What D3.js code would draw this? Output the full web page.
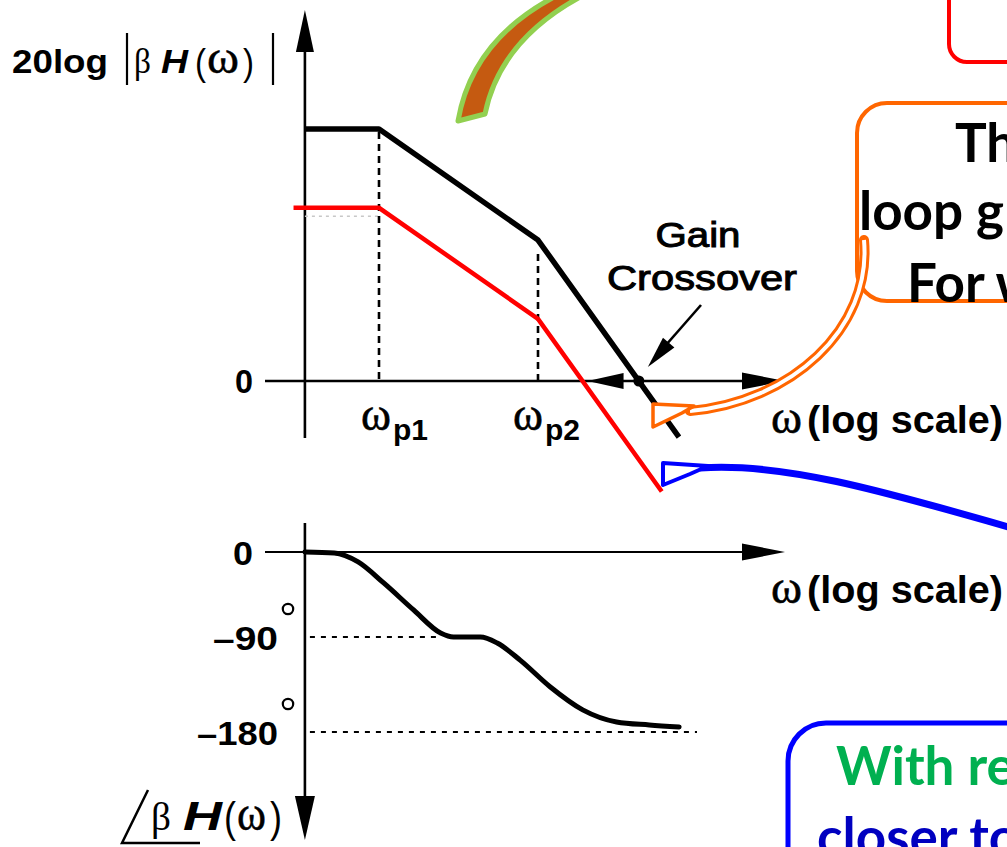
<!DOCTYPE html>
<html><head><meta charset="utf-8">
<script src="https://cdn.jsdelivr.net/npm/d3@7"></script>
<style>html,body{margin:0;padding:0;background:#fff;overflow:hidden}</style>
</head><body>
<svg id="c" width="1007" height="847"></svg>
<script>
// ---------- data ----------
const poleFreqs = [1, 10];
const poleLabels = ["p1", "p2"];
const loopFreq = [0.342, 1, 10, 77];
const loopDb = [45.4, 45.4, 25.4, -10.1];
const reducedFreq = [0.29, 1, 10, 60];
const reducedDb = [31.2, 31.2, 11.2, -19.9];
const guideDb = [29.7];
const phaseFreq = [0.342, 0.523, 0.739, 1.07, 1.65, 2.44, 2.94, 4.34, 5.54, 7.72, 11.9, 19.1, 31.2, 50.1, 77.2];
const phaseDeg = [0, -1, -10.5, -32.8, -61.4, -85.8, -90, -90, -95.7, -111.9, -137.1, -159, -170.5, -173.3, -175.2];
const magTickVals = [0];
const magTickLabels = ["0"];
const phaseTickVals = [0, -90, -180];
const phaseTickLabels = ["0", "\u201390", "\u2013180"];
const phaseGuideEnd = [null, 2.42, 100];
const axisLabel = "(log scale)";
const gainLabel = ["Gain", "Crossover"];

// ---------- setup ----------
const svg = d3.select("#c");
const W = 1007, H = 847;
svg.append("rect").attr("width", W).attr("height", H).attr("fill", "#fff");

const x = d3.scaleLog().domain([1, 10]).range([379, 538]);
const yMag = d3.scaleLinear().domain([0, 20]).range([381, 270]);
const yPh = d3.scaleLinear().domain([0, -90, -180]).range([552, 637, 732]);
const axisX = x(loopFreq[0]);
const axisLeft = 265, axisRight = 785;
const SANS = "'Liberation Sans', Arial, Helvetica, sans-serif";
const SERIF = "'Liberation Serif', 'Times New Roman', serif";
const CAL = "Lato, 'Open Sans', sans-serif";

function head(g, tx, ty, ang, len, wid, fill) {
  const c = Math.cos(ang), s = Math.sin(ang);
  const bx = tx - len * c, by = ty - len * s;
  const px = -s * wid / 2, py = c * wid / 2;
  g.append("path").attr("d", `M${tx},${ty}L${bx + px},${by + py}L${bx - px},${by - py}Z`).attr("fill", fill || "#000");
}
function txt(g, s, xx, yy, o) {
  const t = g.append("text").attr("x", xx).attr("y", yy).text(s)
    .attr("font-family", o.f || SANS).attr("font-size", o.size)
    .attr("font-weight", o.w || "normal").attr("fill", o.fill || "#000");
  if (o.italic) t.attr("font-style", "italic");
  if (o.anchor) t.attr("text-anchor", o.anchor);
  if (o.tl) t.attr("textLength", o.tl).attr("lengthAdjust", "spacingAndGlyphs");
  if (o.sw) t.attr("stroke", o.fill || "#000").attr("stroke-width", o.sw);
  return t;
}

const g = svg.append("g");

// ---------- magnitude plot ----------
const y0 = yMag(0);
g.append("line").attr("x1", axisX).attr("x2", axisX).attr("y1", 438).attr("y2", 45)
  .attr("stroke", "#000").attr("stroke-width", 2.6);
head(g, axisX, 10, -Math.PI / 2, 42, 18);
g.append("line").attr("x1", axisLeft).attr("x2", axisRight - 30).attr("y1", y0).attr("y2", y0)
  .attr("stroke", "#000").attr("stroke-width", 2.6);
head(g, axisRight, y0, 0, 43, 17);

// faint guide from original figure
g.append("line").attr("x1", axisX).attr("x2", x(poleFreqs[0])).attr("y1", yMag(guideDb[0])).attr("y2", yMag(guideDb[0]))
  .attr("stroke", "#c8c8c8").attr("stroke-width", 1.5).attr("stroke-dasharray", "3,4");

// pole dashed lines
const loopAt = f => {
  const i = d3.bisectLeft(loopFreq, f);
  return loopDb[Math.min(i, loopDb.length - 1)];
};
poleFreqs.forEach((f, i) => {
  g.append("line").attr("x1", x(f)).attr("x2", x(f)).attr("y1", yMag(loopAt(f)) + (i ? 14 : 3)).attr("y2", y0)
    .attr("stroke", "#000").attr("stroke-width", 2.6).attr("stroke-dasharray", "7,5");
});

const line = d3.line().x(d => x(d[0])).y(d => yMag(d[1]));
g.append("path").attr("d", line(loopFreq.map((f, i) => [f, loopDb[i]])))
  .attr("fill", "none").attr("stroke", "#000").attr("stroke-width", 5.5).attr("stroke-linejoin", "round");
g.append("path").attr("d", line(reducedFreq.map((f, i) => [f, reducedDb[i]])))
  .attr("fill", "none").attr("stroke", "#ff0000").attr("stroke-width", 4.5).attr("stroke-linejoin", "miter");

// crossover points
function zeroCross(fr, db) {
  for (let i = 1; i < fr.length; i++) if (db[i - 1] > 0 && db[i] <= 0) {
    const t = db[i - 1] / (db[i - 1] - db[i]);
    return Math.pow(10, Math.log10(fr[i - 1]) + t * (Math.log10(fr[i]) - Math.log10(fr[i - 1])));
  }
}
const fc = zeroCross(loopFreq, loopDb), fcRed = zeroCross(reducedFreq, reducedDb);
g.append("circle").attr("cx", x(fc)).attr("cy", y0).attr("r", 5.5).attr("fill", "#000");
head(g, x(fcRed) + 5, y0, Math.PI, 36, 16);
// gain crossover pointer
const tipX = x(fc) + 9, tipY = y0 - 14;
g.append("line").attr("x1", 701).attr("y1", 305).attr("x2", tipX + 12).attr("y2", tipY - 15)
  .attr("stroke", "#000").attr("stroke-width", 2.6);
head(g, tipX, tipY, Math.atan2(tipY - 305, tipX - 701), 32, 15);
txt(g, gainLabel[0], 698, 247, { size: 35, anchor: "middle", tl: 85, sw: 1 });
txt(g, gainLabel[1], 702, 290, { size: 35, anchor: "middle", tl: 190, sw: 1 });

// magnitude tick labels
magTickVals.forEach((v, i) => txt(g, magTickLabels[i], 253, yMag(v) + 12, { size: 34, w: "bold", anchor: "end", tl: 18 }));

// pole labels
poleFreqs.forEach((f, i) => {
  const cx = x(f) + (i ? 8 : 15);
  txt(g, "\u03c9", cx - 33, 430, { f: SERIF, size: 46, tl: 30, sw: 0.6 });
  txt(g, poleLabels[i], cx - 1, 440, { size: 29, w: "bold", tl: 35 });
});

// axis title labels
function logScaleLabel(yy) {
  txt(g, "\u03c9", 771, yy, { f: SERIF, size: 46, tl: 31, sw: 0.6 });
  txt(g, axisLabel, 807, yy, { size: 39, w: "bold", tl: 196 });
}
logScaleLabel(y0 + 52);

// y title: 20log|βH(ω)|
txt(g, "20log", 12, 73, { size: 33, w: "bold", tl: 96 });
g.append("line").attr("x1", 127).attr("x2", 127).attr("y1", 33).attr("y2", 85).attr("stroke", "#000").attr("stroke-width", 2.2);
txt(g, "\u03b2", 134, 73, { f: SERIF, size: 36, tl: 17 });
txt(g, "H", 161, 73, { size: 33, w: "bold", italic: true, tl: 27 });
txt(g, "(", 195, 75, { size: 36, tl: 11 });
txt(g, "\u03c9", 207, 73, { f: SERIF, size: 46, tl: 32, sw: 0.5 });
txt(g, ")", 243, 75, { size: 36, tl: 11 });
g.append("line").attr("x1", 273).attr("x2", 273).attr("y1", 33).attr("y2", 85).attr("stroke", "#000").attr("stroke-width", 2.2);

// ---------- phase plot ----------
const p0 = yPh(0);
g.append("line").attr("x1", axisX).attr("x2", axisX).attr("y1", 523).attr("y2", 800)
  .attr("stroke", "#000").attr("stroke-width", 2.6);
head(g, axisX, 840, Math.PI / 2, 44, 20);
g.append("line").attr("x1", axisLeft).attr("x2", axisRight - 30).attr("y1", p0).attr("y2", p0)
  .attr("stroke", "#000").attr("stroke-width", 2.2);
head(g, axisRight, p0, 0, 43, 17);
logScaleLabel(p0 + 51);

phaseTickVals.forEach((v, i) => {
  if (phaseGuideEnd[i]) {
    g.append("line").attr("x1", axisX + 5).attr("x2", x(phaseGuideEnd[i])).attr("y1", yPh(v)).attr("y2", yPh(v))
      .attr("stroke", "#000").attr("stroke-width", 2).attr("stroke-dasharray", "5,6");
  }
  const w = [20, 65, 81][i];
  txt(g, phaseTickLabels[i], i ? 278 : 253, yPh(v) + 13, { size: 34, w: "bold", anchor: "end", tl: w });
  if (i) g.append("circle").attr("cx", 288).attr("cy", yPh(v) - 28).attr("r", 5.2)
    .attr("fill", "none").attr("stroke", "#000").attr("stroke-width", 2.2);
});

const pline = d3.line().x(d => x(d[0])).y(d => yPh(d[1])).curve(d3.curveMonotoneX);
g.append("path").attr("d", pline(phaseFreq.map((f, i) => [f, phaseDeg[i]])))
  .attr("fill", "none").attr("stroke", "#000").attr("stroke-width", 5).attr("stroke-linecap", "round");

// ∠βH(ω)
g.append("path").attr("d", "M148,790L122,843L200,843").attr("fill", "none").attr("stroke", "#000").attr("stroke-width", 2.5);
txt(g, "\u03b2", 151, 830, { f: SERIF, size: 40, tl: 20 });
txt(g, "H", 183, 830, { size: 41, w: "bold", italic: true, tl: 39 });
txt(g, "(", 224, 832, { size: 42, tl: 12 });
txt(g, "\u03c9", 237, 830, { f: SERIF, size: 48, tl: 29, sw: 0.5 });
txt(g, ")", 270, 832, { size: 42, tl: 12 });

// ---------- annotations ----------
const a = svg.append("g");
// green / brown curved arrow body
a.append("path").attr("d", "M458,121L485,114Q500,40 582,-4L556,-4Q472,40 458,121Z")
  .attr("fill", "#c55a11").attr("stroke", "#92d050").attr("stroke-width", 5).attr("stroke-linejoin", "round");
// red box
a.append("rect").attr("x", 949).attr("y", -40).attr("width", 120).attr("height", 102).attr("rx", 18)
  .attr("fill", "none").attr("stroke", "#ff0000").attr("stroke-width", 4);
// orange box
a.append("rect").attr("x", 857).attr("y", 103).attr("width", 220).attr("height", 198).attr("rx", 30)
  .attr("fill", "#fff").attr("stroke", "#ff6600").attr("stroke-width", 4);
txt(a, "Th", 955, 162, { f: CAL, size: 53, w: "bold" });
txt(a, "loop g", 859, 230, { f: CAL, size: 53, w: "bold" });
txt(a, "For w", 907, 302, { f: CAL, size: 53, w: "bold" });
// orange connector
const oPath = "M864,240C872,330 790,402 690,411";
a.append("path").attr("d", oPath).attr("fill", "none").attr("stroke", "#ff6600").attr("stroke-width", 10).attr("stroke-linecap", "round");
a.append("path").attr("d", oPath).attr("fill", "none").attr("stroke", "#fff").attr("stroke-width", 4);
a.append("path").attr("d", "M653,404L694,406L682,413L653,427Z").attr("fill", "#fff").attr("stroke", "#ff6600").attr("stroke-width", 3.5).attr("stroke-linejoin", "round");
// blue connector
a.append("path").attr("d", "M1012,528C880,490 780,462 700,468").attr("fill", "none").attr("stroke", "#0000ff").attr("stroke-width", 7);
a.append("path").attr("d", "M663,463L708,466L690,474L663,485Z").attr("fill", "#fff").attr("stroke", "#0000ff").attr("stroke-width", 4).attr("stroke-linejoin", "round");
// blue box
a.append("rect").attr("x", 788).attr("y", 723).attr("width", 300).attr("height", 220).attr("rx", 38)
  .attr("fill", "#fff").attr("stroke", "#0000ff").attr("stroke-width", 5);
txt(a, "With re", 836, 785, { f: CAL, size: 53, w: "bold", fill: "#00b050" });
txt(a, "closer to", 817, 856, { f: CAL, size: 53, w: "bold", fill: "#0000c0" });
</script>
</body></html>
